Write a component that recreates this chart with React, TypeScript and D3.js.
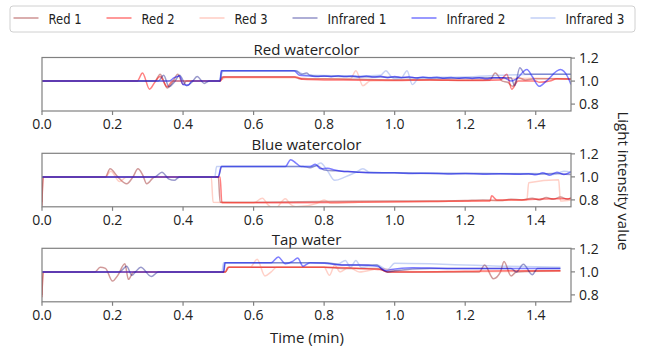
import React from 'react'
import * as d3 from 'd3'

type Pt = [number, number]

// legend / series setup
const seriesNames = ['Red 1', 'Red 2', 'Red 3', 'Infrared 1', 'Infrared 2', 'Infrared 3']
const seriesColors = [
  'rgba(139,0,0,0.4)',
  'rgba(255,0,0,0.5)',
  'rgba(255,99,71,0.3)',
  'rgba(0,0,128,0.4)',
  'rgba(0,0,255,0.5)',
  'rgba(65,105,225,0.3)',
]
const panelTitles = ['Red watercolor', 'Blue watercolor', 'Tap water']
const xTicks = [0, 0.2, 0.4, 0.6, 0.8, 1.0, 1.2, 1.4]
const yTicks = [0.8, 1.0, 1.2]

// ---- Red watercolor ----
const rwRed1: Pt[] = [[0, 1], [0.32, 1], [0.335, 1.06], [0.355, 0.94], [0.37, 0.99], [0.385, 1.06], [0.4, 0.97], [0.41, 1.0], [0.505, 1.0], [0.51, 1.035], [0.715, 1.035], [0.73, 1.02], [0.8, 1.02], [0.9, 1.015], [1.0, 1.01], [1.1, 1.012], [1.2, 1.008], [1.27, 1.01], [1.285, 1.07], [1.305, 1.0], [1.32, 0.99], [1.335, 0.955], [1.35, 1.03], [1.37, 1.01], [1.4, 1.02], [1.5, 1.02]]
const rwRed2: Pt[] = [[0, 1], [0.27, 1], [0.285, 1.07], [0.305, 0.93], [0.32, 0.99], [0.335, 1.04], [0.355, 0.95], [0.37, 1.0], [0.505, 1.0], [0.515, 1.035], [0.72, 1.035], [0.74, 1.015], [0.8, 1.01], [0.9, 1.008], [1.0, 1.005], [1.1, 1.01], [1.2, 1.005], [1.3, 1.01], [1.318, 1.06], [1.332, 0.93], [1.35, 1.0], [1.4, 1.0], [1.41, 0.99], [1.44, 1.0], [1.46, 1.02], [1.5, 1.015]]
const rwRed3: Pt[] = [[0, 1], [0.5, 1.0], [0.52, 1.03], [0.73, 1.03], [0.76, 1.02], [0.875, 1.02], [0.89, 1.09], [0.91, 0.96], [0.93, 1.0], [1.0, 1.01], [1.2, 1.01], [1.3, 1.02], [1.4, 1.025], [1.5, 1.02]]
const rwIr1: Pt[] = [[0, 1], [0.33, 1], [0.345, 1.05], [0.36, 0.95], [0.375, 0.99], [0.39, 1.05], [0.41, 0.96], [0.425, 0.99], [0.44, 1.04], [0.46, 0.98], [0.475, 1.0], [0.505, 1.0], [0.51, 1.09], [0.72, 1.09], [0.735, 1.06], [0.75, 1.07], [0.76, 1.05], [0.77, 1.045], [0.85, 1.04], [0.95, 1.035], [1.05, 1.03], [1.15, 1.025], [1.25, 1.03], [1.33, 1.03], [1.34, 0.96], [1.355, 1.115], [1.37, 1.06], [1.4, 1.06], [1.5, 1.06]]
const rwIr2: Pt[] = [[0, 1], [0.36, 1], [0.375, 1.03], [0.39, 1.045], [0.4, 0.97], [0.415, 0.965], [0.425, 1.0], [0.505, 1.0], [0.508, 1.09], [0.715, 1.09], [0.73, 1.05], [0.76, 1.045], [0.78, 1.04], [0.8, 1.045], [0.82, 1.038], [0.84, 1.046], [0.86, 1.04], [0.88, 1.045], [0.9, 1.036], [0.92, 1.044], [0.94, 1.035], [0.96, 1.042], [0.98, 1.03], [1.0, 1.04], [1.02, 1.03], [1.04, 1.038], [1.06, 1.027], [1.08, 1.036], [1.1, 1.028], [1.12, 1.034], [1.14, 1.025], [1.16, 1.032], [1.18, 1.024], [1.2, 1.03], [1.22, 1.022], [1.24, 1.03], [1.26, 1.02], [1.28, 1.03], [1.31, 1.03], [1.33, 1.0], [1.345, 1.02], [1.375, 1.1], [1.39, 1.04], [1.41, 0.955], [1.43, 1.0], [1.47, 1.1], [1.49, 1.04], [1.5, 0.97]]
const rwIr3: Pt[] = [[0, 1], [0.5, 1.0], [0.515, 1.09], [0.72, 1.09], [0.74, 1.06], [0.76, 1.05], [0.9, 1.045], [0.96, 1.05], [0.975, 1.09], [0.99, 1.04], [1.0, 1.02], [1.02, 1.03], [1.035, 1.09], [1.05, 0.97], [1.07, 1.03], [1.2, 1.035], [1.3, 1.05], [1.4, 1.06], [1.5, 1.06]]

// ---- Blue watercolor ----
const bwRed1: Pt[] = [[0, 0.78], [0.003, 1.0], [0.18, 1.0], [0.193, 1.07], [0.215, 1.0], [0.24, 0.94], [0.258, 1.0], [0.272, 1.07], [0.285, 1.02], [0.297, 0.94], [0.32, 1.0], [0.5, 1.0], [0.505, 0.78], [0.6, 0.78], [0.8, 0.785], [1.0, 0.79], [1.1, 0.79], [1.2, 0.795], [1.25, 0.8], [1.3, 0.795], [1.33, 0.805], [1.36, 0.8], [1.39, 0.815], [1.41, 0.8], [1.43, 0.82], [1.45, 0.805], [1.47, 0.825], [1.49, 0.805], [1.5, 0.82]]
const bwRed2: Pt[] = [[0, 0.75], [0.003, 1.0], [0.505, 1.0], [0.51, 0.775], [0.7, 0.775], [0.9, 0.78], [1.1, 0.785], [1.25, 0.79], [1.27, 0.79], [1.275, 0.835], [1.29, 0.8], [1.35, 0.8], [1.4, 0.805], [1.45, 0.81], [1.5, 0.81]]
const bwRed3: Pt[] = [[0, 1.0], [0.18, 1.0], [0.195, 1.05], [0.22, 0.96], [0.24, 1.0], [0.48, 1.0], [0.485, 0.78], [0.6, 0.775], [0.625, 0.815], [0.64, 0.76], [0.66, 0.72], [0.69, 0.81], [0.705, 0.76], [0.72, 0.74], [0.78, 0.77], [0.8, 0.8], [0.82, 0.77], [0.9, 0.78], [1.1, 0.785], [1.2, 0.79], [1.3, 0.795], [1.375, 0.8], [1.38, 0.95], [1.465, 0.975], [1.47, 0.79], [1.5, 0.8]]
const bwIr1: Pt[] = [[0, 1], [0.32, 1], [0.34, 1.04], [0.36, 0.98], [0.375, 0.97], [0.39, 1.0], [0.5, 1.0], [0.51, 1.09], [0.74, 1.09], [0.76, 1.08], [0.78, 1.1], [0.8, 1.06], [0.85, 1.05], [0.9, 1.04], [1.0, 1.035], [1.1, 1.03], [1.2, 1.03], [1.3, 1.028], [1.4, 1.025], [1.45, 1.03], [1.5, 1.02]]
const bwIr2: Pt[] = [[0, 1], [0.5, 1.0], [0.508, 1.09], [0.69, 1.09], [0.705, 1.15], [0.72, 1.12], [0.735, 1.09], [0.76, 1.09], [0.775, 1.11], [0.79, 1.07], [0.81, 1.075], [0.83, 1.06], [0.85, 1.05], [0.88, 1.045], [0.9, 1.04], [0.95, 1.035], [1.0, 1.035], [1.05, 1.03], [1.1, 1.032], [1.15, 1.026], [1.2, 1.03], [1.25, 1.024], [1.3, 1.028], [1.35, 1.022], [1.38, 1.028], [1.4, 1.018], [1.42, 1.035], [1.44, 1.015], [1.46, 1.04], [1.48, 1.02], [1.5, 1.045]]
const bwIr3: Pt[] = [[0, 1], [0.49, 1.0], [0.495, 1.09], [0.77, 1.09], [0.79, 1.12], [0.81, 1.05], [0.83, 0.97], [0.86, 1.0], [0.89, 1.04], [0.91, 1.07], [0.93, 1.04], [1.0, 1.035], [1.2, 1.03], [1.4, 1.03], [1.45, 1.02], [1.48, 1.05], [1.5, 1.04]]

// ---- Tap water ----
const twRed1: Pt[] = [[0, 0.8], [0.003, 1.0], [0.15, 1.0], [0.165, 1.04], [0.18, 1.03], [0.2, 0.92], [0.215, 0.97], [0.235, 1.07], [0.245, 0.935], [0.26, 1.0], [0.52, 1.0], [0.53, 1.04], [0.8, 1.04], [0.85, 1.03], [0.95, 1.03], [0.98, 1.0], [1.0, 1.0], [1.1, 1.0], [1.24, 1.0], [1.255, 1.06], [1.28, 0.94], [1.3, 1.0], [1.31, 1.09], [1.33, 0.965], [1.345, 1.0], [1.47, 1.01]]
const twRed2: Pt[] = [[0, 0.78], [0.003, 1.0], [0.52, 1.0], [0.527, 1.04], [0.8, 1.04], [0.9, 1.03], [0.96, 1.02], [0.98, 1.0], [1.05, 1.0], [1.2, 1.005], [1.35, 1.01], [1.47, 1.01]]
const twRed3: Pt[] = [[0, 1.0], [0.52, 1.0], [0.53, 1.04], [0.59, 1.04], [0.61, 1.11], [0.632, 0.965], [0.65, 1.0], [0.665, 1.04], [0.8, 1.04], [0.815, 0.97], [0.83, 1.06], [0.845, 1.0], [0.87, 1.04], [0.9, 1.0], [0.96, 1.03], [1.0, 1.01], [1.1, 1.0], [1.47, 1.005]]
const twIr1: Pt[] = [[0, 1], [0.22, 1.0], [0.24, 1.05], [0.255, 0.97], [0.265, 1.0], [0.28, 1.04], [0.31, 0.96], [0.33, 1.0], [0.515, 1.0], [0.52, 1.08], [0.8, 1.08], [0.85, 1.06], [0.95, 1.06], [0.965, 1.02], [0.98, 1.0], [1.0, 1.01], [1.1, 1.03], [1.2, 1.03], [1.33, 1.03], [1.345, 1.0], [1.365, 1.067], [1.39, 0.975], [1.405, 1.03], [1.47, 1.03]]
const twIr2: Pt[] = [[0, 1], [0.515, 1.0], [0.518, 1.08], [0.65, 1.08], [0.67, 1.13], [0.69, 1.07], [0.71, 1.09], [0.725, 1.12], [0.74, 1.05], [0.76, 1.08], [0.8, 1.075], [0.85, 1.06], [0.9, 1.06], [0.95, 1.05], [0.975, 1.01], [0.99, 1.02], [1.05, 1.035], [1.2, 1.03], [1.35, 1.03], [1.47, 1.03]]
const twIr3: Pt[] = [[0, 1], [0.51, 1.0], [0.515, 1.08], [0.8, 1.08], [0.84, 1.07], [0.86, 1.1], [0.875, 1.04], [0.89, 1.1], [0.905, 1.04], [0.95, 1.06], [0.98, 1.02], [1.0, 1.075], [1.1, 1.07], [1.2, 1.06], [1.3, 1.05], [1.4, 1.045], [1.47, 1.04]]

const panelSeries: Pt[][][] = [
  [rwRed1, rwRed2, rwRed3, rwIr1, rwIr2, rwIr3],
  [bwRed1, bwRed2, bwRed3, bwIr1, bwIr2, bwIr3],
  [twRed1, twRed2, twRed3, twIr1, twIr2, twIr3],
]

const tickFont = '"Open Sans", sans-serif'
const axisColor = '#808080'

const App: React.FC = () => {
  const width = 646
  const height = 354
  const left = 42
  const right = 571
  const panelTops = [57.5, 153.3, 248.3]
  const panelH = 53.5

  const x = d3.scaleLinear().domain([0, 1.5]).range([left, right])
  const line = d3.line<Pt>()
    .x(d => x(d[0]))
    .curve(d3.curveMonotoneX)

  // legend layout (horizontal, one row), text squeezed a little like the original
  let cursor = 13.5
  const legendItems = seriesNames.map((name, i) => {
    const w = 5.2 * name.length + 7
    const item = { name, color: seriesColors[i], lx: cursor, tx: cursor + 35, w }
    cursor = cursor + 35 + w + 25
    return item
  })

  return (
    <svg width={width} height={height} style={{ position: 'absolute', left: 0, top: 0, background: '#fff' }}>
      <defs>
        {panelTops.map((top, i) => (
          <clipPath id={`clip${i}`} key={i}>
            <rect x={left} y={top} width={right - left} height={panelH} />
          </clipPath>
        ))}
      </defs>

      {/* legend */}
      <rect x={10} y={6} width={625} height={26} rx={3} fill="#fff" stroke="#d0d0d0" strokeWidth={1} />
      {legendItems.map(it => (
        <g key={it.name}>
          <line x1={it.lx} x2={it.lx + 25} y1={18} y2={18} stroke={it.color} strokeWidth={1.6} />
          <text x={it.tx} y={23.5} fontFamily='"DejaVu Sans", sans-serif' fontSize={13.5} fill="#222"
            textLength={it.w} lengthAdjust="spacingAndGlyphs">{it.name}</text>
        </g>
      ))}

      {panelTops.map((top, p) => {
        const y = d3.scaleLinear().domain([0.74, 1.205]).range([top + panelH, top])
        const ln = line.y(d => y(d[1]))
        const bottom = top + panelH
        return (
          <g key={p}>
            <text x={(left + right) / 2} y={top - 3} textAnchor="middle" fontFamily={tickFont} fontSize={15} fill="#222">
              {panelTitles[p]}
            </text>
            <g clipPath={`url(#clip${p})`}>
              {panelSeries[p].map((s, k) => (
                <path key={k} d={ln(s) || ''} fill="none" stroke={seriesColors[k]} strokeWidth={1.5} />
              ))}
            </g>
            <rect x={left} y={top} width={right - left} height={panelH} fill="none" stroke={axisColor} strokeWidth={1.2} />
            {xTicks.map(t => (
              <g key={t}>
                <line x1={x(t)} x2={x(t)} y1={bottom} y2={bottom + 4} stroke={axisColor} strokeWidth={1.2} />
                <text x={x(t)} y={bottom + 18} textAnchor="middle" fontFamily={tickFont} fontSize={14} fill="#222">
                  {t.toFixed(1)}
                </text>
              </g>
            ))}
            {yTicks.map(t => (
              <g key={t}>
                <line x1={right} x2={right + 4} y1={y(t)} y2={y(t)} stroke={axisColor} strokeWidth={1.2} />
                <text x={right + 8} y={y(t) + 5} fontFamily={tickFont} fontSize={14} fill="#222">
                  {t.toFixed(1)}
                </text>
              </g>
            ))}
          </g>
        )
      })}

      <text x={307} y={343} textAnchor="middle" fontFamily={tickFont} fontSize={15} fill="#222">Time (min)</text>
      <text transform="translate(618,181) rotate(90)" textAnchor="middle" fontFamily={tickFont} fontSize={15} fill="#222">
        Light intensity value
      </text>
    </svg>
  )
}

export default App
